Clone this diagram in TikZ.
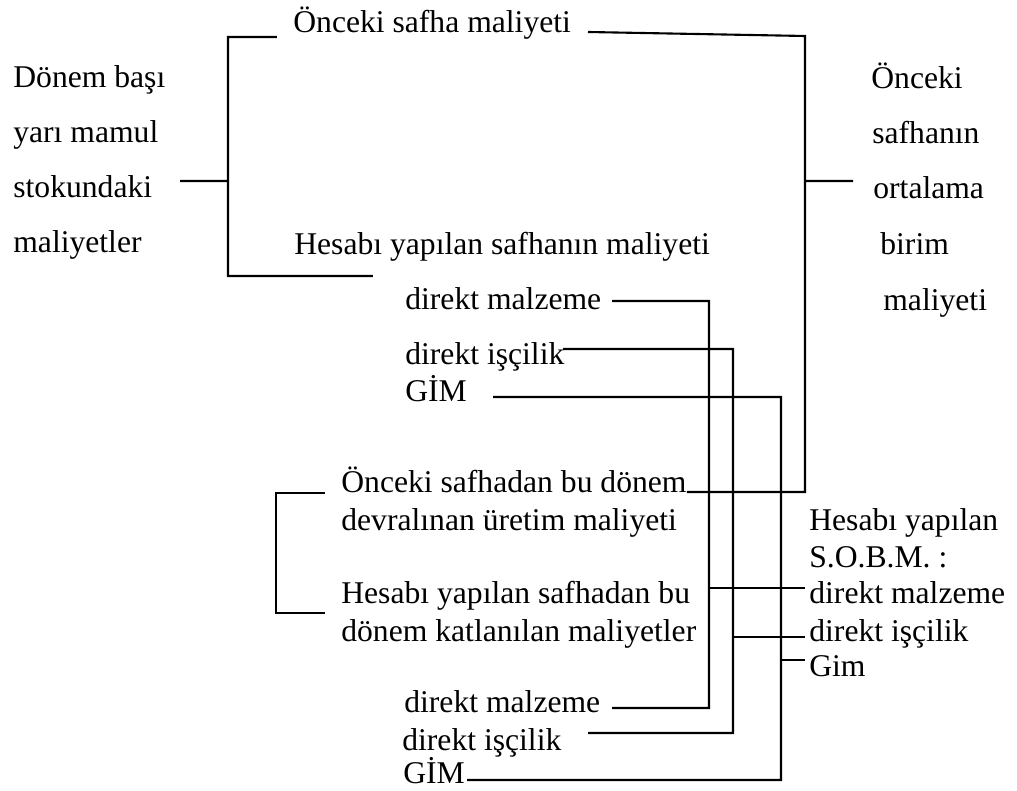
\documentclass[tikz,border=0pt]{standalone}
\usepackage{fontspec}
\setmainfont{Liberation Serif}
\usepackage{tikz}

\begin{document}
\begin{tikzpicture}[scale=0.2]
\tikzstyle{every node}+=[inner sep=0pt]
\tikzstyle{lbl}=[anchor=base west,font=\fontsize{18}{21}\selectfont]
\tikzstyle{wire}=[black,line width=1.2pt]
\useasboundingbox (0,0) rectangle (101.7,-79.1);
% left column
\node [lbl] (basi1) at (1.3,-8.8) {Dönem başı};
\node [lbl] (basi2) at (1.3,-14.3) {yarı mamul};
\node [lbl] (basi3) at (1.3,-19.8) {stokundaki};
\node [lbl] (basi4) at (1.3,-25.3) {maliyetler};
% right column
\node [lbl] (ort1) at (87.1,-8.9) {Önceki};
\node [lbl] (ort2) at (87.2,-14.4) {safhanın};
\node [lbl] (ort3) at (87.3,-19.9) {ortalama};
\node [lbl] (ort4) at (88.0,-25.5) {birim};
\node [lbl] (ort5) at (88.3,-31.1) {maliyeti};
% upper block
\node [lbl] (onceki) at (29.3,-3.3) {Önceki safha maliyeti};
\node [lbl] (hesabi) at (29.4,-25.5) {Hesabı yapılan safhanın maliyeti};
\node [lbl] (dm1) at (40.5,-31.0) {direkt malzeme};
\node [lbl] (di1) at (40.5,-36.5) {direkt işçilik};
\node [lbl] (gim1) at (40.5,-40.2) {GİM};
% lower block
\node [lbl] (devr1) at (34.1,-49.3) {Önceki safhadan bu dönem};
\node [lbl] (devr2) at (34.1,-53.1) {devralınan üretim maliyeti};
\node [lbl] (kat1) at (34.1,-60.4) {Hesabı yapılan safhadan bu};
\node [lbl] (kat2) at (34.1,-64.2) {dönem katlanılan maliyetler};
\node [lbl] (dm2) at (40.4,-71.3) {direkt malzeme};
\node [lbl] (di2) at (40.2,-75.0) {direkt işçilik};
\node [lbl] (gim2) at (40.3,-78.4) {GİM};
% S.O.B.M.
\node [lbl] (sobm1) at (80.9,-53.1) {Hesabı yapılan};
\node [lbl] (sobm2) at (80.9,-56.8) {S.O.B.M. :};
\node [lbl] (sobm3) at (80.9,-60.4) {direkt malzeme};
\node [lbl] (sobm4) at (80.9,-64.2) {direkt işçilik};
\node [lbl] (sobm5) at (80.9,-67.7) {Gim};
% bracket ends
\coordinate (bl) at (22.8,-18.1);
\coordinate (br) at (80.5,-18.1);
\coordinate (tl) at (27.7,-3.7);
\coordinate (tr) at (58.8,-3.2);
\coordinate (hl) at (37.3,-27.6);
\coordinate (dv) at (68.7,-49.2);
\coordinate (vdm) at (70.9,-30.1);
\coordinate (vdi) at (73.3,-34.9);
\coordinate (vgim) at (78.1,-39.7);
% left bracket
\draw [wire] (18.0,-18.1) -- (bl);
\draw [wire] (tl) -- (22.8,-3.7) -- (22.8,-27.6) -- (hl);
% right bracket
\draw [wire] (tr) -- (80.5,-3.6) -- (80.5,-49.2) -- (dv);
\draw [wire] (br) -- (85.3,-18.1);
% cost elements
\draw [wire] (61.2,-30.1) -- (vdm) -- (70.9,-70.8) -- (61.2,-70.8);
\draw [wire] (56.3,-34.9) -- (vdi) -- (73.3,-73.3) -- (58.8,-73.3);
\draw [wire] (49.3,-39.7) -- (vgim) -- (78.1,-78.0) -- (46.7,-78.0);
% lower bracket
\draw [wire] (32.5,-49.3) -- (27.6,-49.3) -- (27.6,-61.3) -- (32.5,-61.3);
% to S.O.B.M.
\draw [wire] (70.9,-58.8) -- (80.5,-58.8);
\draw [wire] (73.3,-63.7) -- (80.5,-63.7);
\draw [wire] (78.1,-66.0) -- (80.5,-66.0);
\end{tikzpicture}
\end{document}
